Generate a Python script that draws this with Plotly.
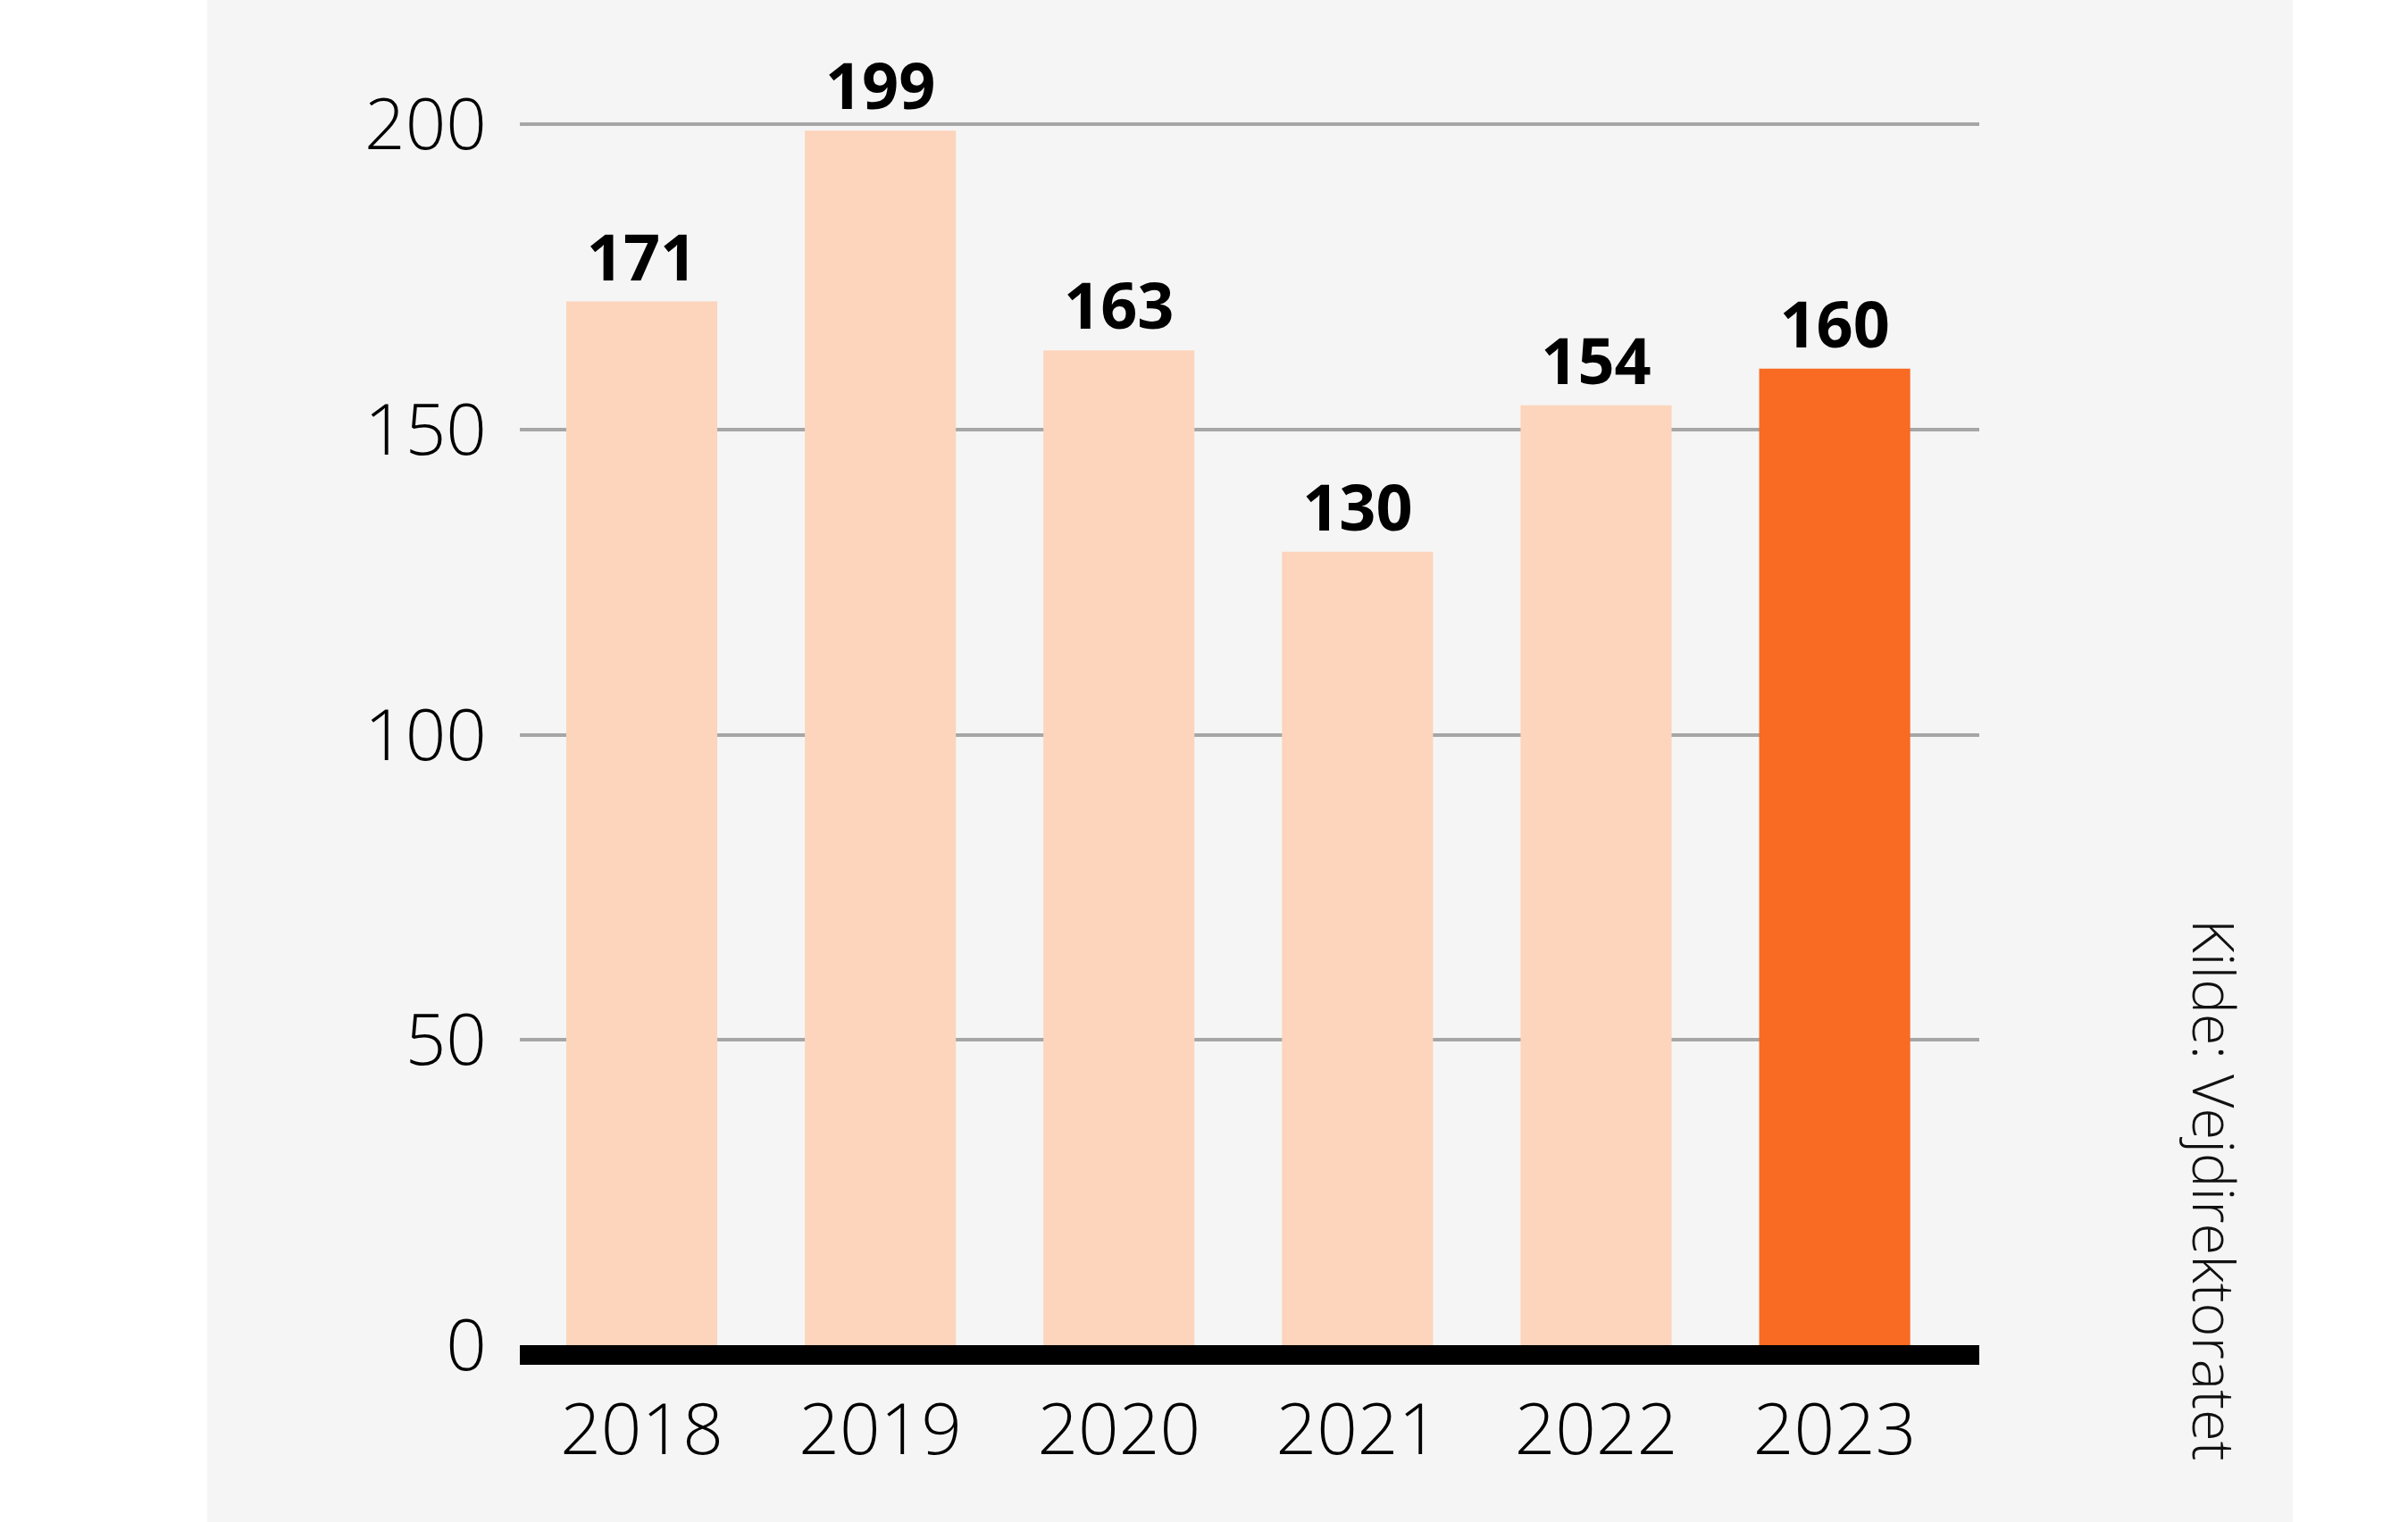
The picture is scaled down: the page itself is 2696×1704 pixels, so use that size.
import plotly.graph_objects as go

years = ["2018", "2019", "2020", "2021", "2022", "2023"]
values = [171, 199, 163, 130, 154, 160]
bar_colors = ["#FDD4BC", "#FDD4BC", "#FDD4BC", "#FDD4BC", "#FDD4BC", "#F96A22"]
y_ticks = [0, 50, 100, 150, 200]
source_text = "Kilde: Vejdirektoratet"

W, H = 2696, 1704
L, R, T, B = 582, 480, 71, 198
pw = W - L - R
ph = H - T - B

def px_x(px):
    return (px - L) / pw

def px_y(py):
    return (H - B - py) / ph

fig = go.Figure()
fig.add_trace(go.Bar(
    x=list(range(len(years))),
    y=values,
    marker=dict(color=bar_colors, line=dict(width=0)),
    width=0.633,
    text=[str(v) for v in values],
    textposition="outside",
    cliponaxis=False,
    textfont=dict(family="Open Sans", size=72, color="#000000", weight="bold"),
    hoverinfo="skip",
))

fig.add_shape(type="rect", xref="paper", yref="paper",
              x0=px_x(232), x1=px_x(2567), y0=px_y(H + 5), y1=px_y(-5),
              fillcolor="#F5F5F5", line=dict(width=0), layer="below")

fig.add_annotation(text=source_text, xref="paper", yref="paper",
                   x=px_x(2480), y=px_y(1332), textangle=90, showarrow=False,
                   xanchor="center", yanchor="middle",
                   font=dict(family="Open Sans", size=65, color="#111111", weight=300))

fig.update_layout(
    width=W, height=H,
    margin=dict(l=L, r=R, t=T, b=B, pad=0),
    paper_bgcolor="#FFFFFF",
    plot_bgcolor="rgba(0,0,0,0)",
    showlegend=False,
    xaxis=dict(
        range=[-0.511, 5.606],
        tickmode="array",
        tickvals=list(range(len(years))),
        ticktext=years,
        showgrid=False,
        zeroline=False,
        showline=True,
        linecolor="#000000",
        linewidth=22,
        ticks="",
        ticklabelstandoff=4,
        tickfont=dict(family="Open Sans", size=80, color="#000000", weight=300),
    ),
    yaxis=dict(
        range=[0, 210],
        tickmode="array",
        tickvals=y_ticks,
        ticktext=[str(t) for t in y_ticks],
        showgrid=True,
        gridcolor="#A6A6A6",
        gridwidth=3.5,
        zeroline=False,
        showline=False,
        ticks="",
        ticklabelstandoff=36,
        tickfont=dict(family="Open Sans", size=80, color="#000000", weight=300),
    ),
)

fig.write_html("out.html", config={"displayModeBar": False},
               post_script="document.body.style.margin='0px';")
